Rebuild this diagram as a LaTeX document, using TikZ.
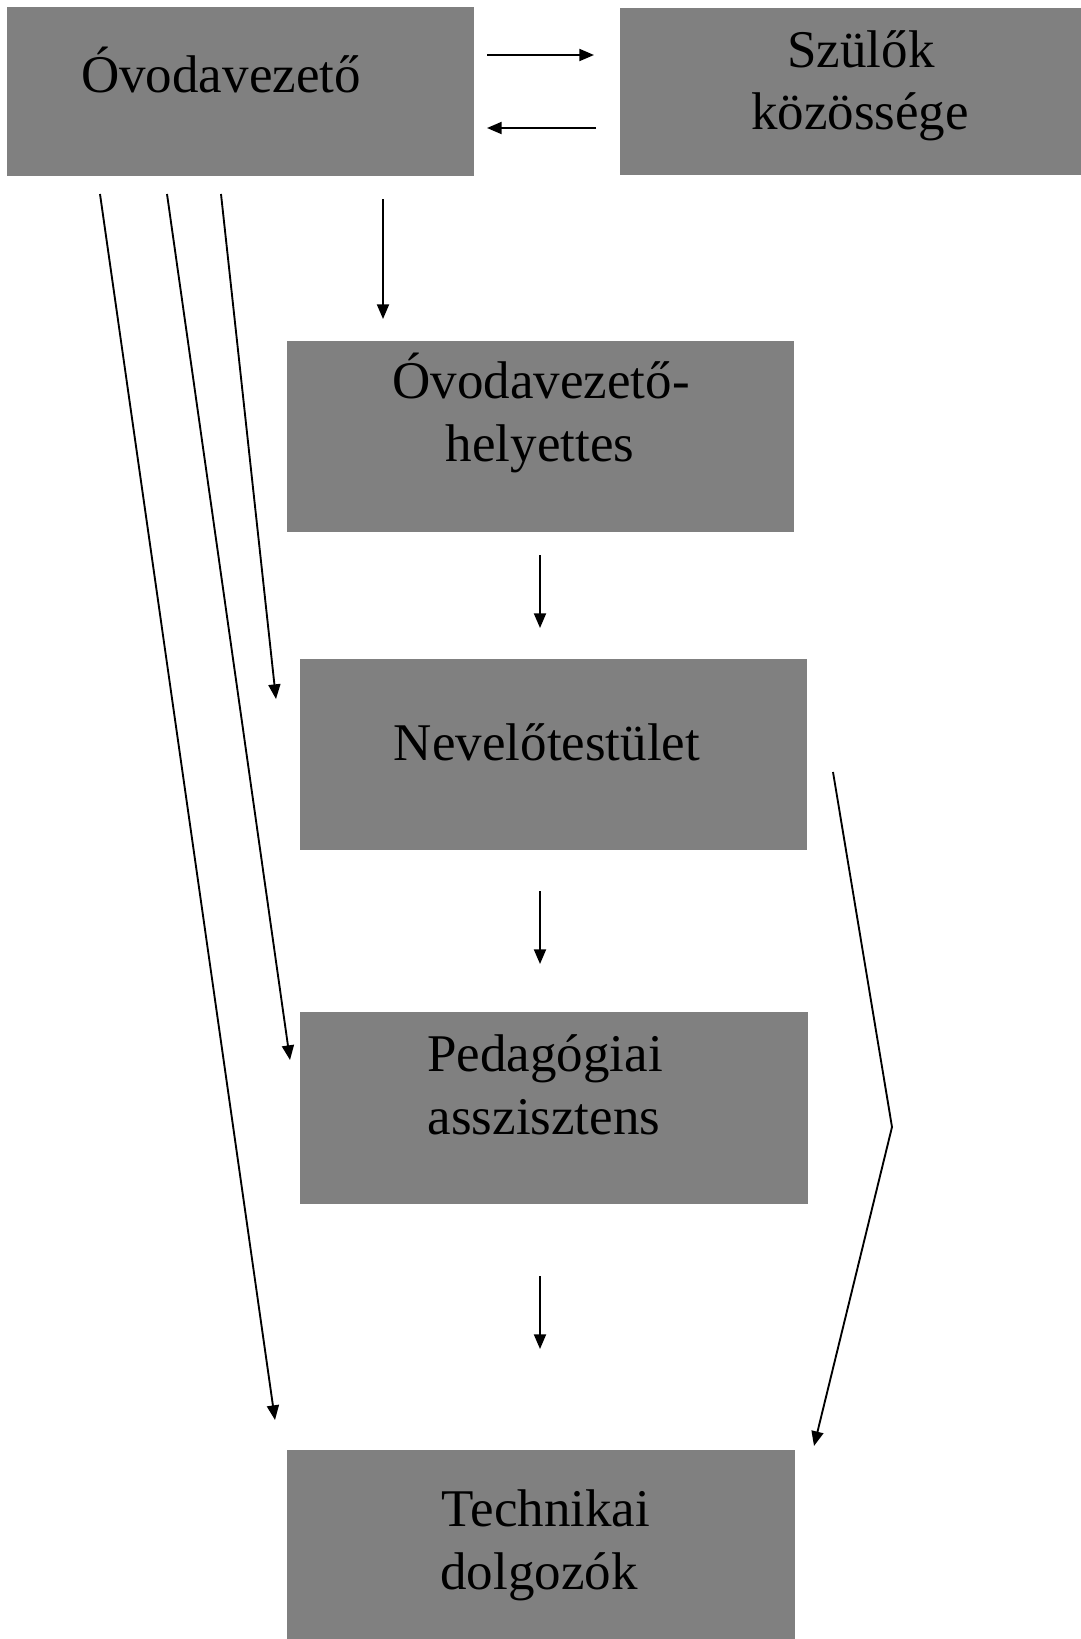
\documentclass[tikz,border=0pt]{standalone}
\usepackage{fontspec}
\setmainfont{Liberation Serif}
\usetikzlibrary{arrows.meta,fit}
\definecolor{boxgray}{RGB}{128,128,128}
\tikzset{
  box/.style={fill=boxgray, draw=none, inner sep=0pt},
  lbl/.style={anchor=base, inner sep=0pt, font=\fontsize{39.75pt}{47pt}\selectfont, text=black},
  conn/.style={line width=1.4pt, -{Triangle[length=11pt,width=9pt]}},
  plain/.style={line width=1.4pt}
}
\begin{document}
\begin{tikzpicture}[x=0.75pt,y=-0.75pt]
\useasboundingbox (0,0) rectangle (1081,1639);
% boxes
\node[box, fit={(7,7) (474,176)}] (vez) {};
\node[box, fit={(620,8) (1081,175)}] (szul) {};
\node[box, fit={(287,341) (794,532)}] (hely) {};
\node[box, fit={(300,659) (807,850)}] (nev) {};
\node[box, fit={(300,1012) (808,1204)}] (ped) {};
\node[box, fit={(287,1450) (795,1639)}] (tech) {};
% texts
\node[lbl] (t1) at (221,92) {Óvodavezető};
\node[lbl] (t2a) at (861,67) {Szülők};
\node[lbl] (t2b) at (860,129) {közössége};
\node[lbl] (t3a) at (541,398) {Óvodavezető-};
\node[lbl] (t3b) at (540,461) {helyettes};
\node[lbl] (t4) at (547,760) {Nevelőtestület};
\node[lbl] (t5a) at (545,1071) {Pedagógiai};
\node[lbl] (t5b) at (544,1134) {asszisztens};
\node[lbl] (t6a) at (546,1526) {Technikai};
\node[lbl] (t6b) at (539,1589) {dolgozók};
% connector end points
\coordinate (r1s) at (487,55);  \coordinate (r1e) at (594,55);
\coordinate (l1s) at (596,128); \coordinate (l1e) at (487,128);
\coordinate (d1s) at (383,199); \coordinate (d1e) at (383,319);
\coordinate (d2s) at (540,555); \coordinate (d2e) at (540,628);
\coordinate (d3s) at (540,891); \coordinate (d3e) at (540,964);
\coordinate (d4s) at (540,1276); \coordinate (d4e) at (540,1349);
\coordinate (g1s) at (221,194); \coordinate (g1e) at (276,699);
\coordinate (g2s) at (167,194); \coordinate (g2e) at (290,1060);
\coordinate (g3s) at (100,194); \coordinate (g3e) at (275,1420);
\coordinate (bs) at (833,772); \coordinate (bp) at (892,1127); \coordinate (be) at (814,1446);
% connectors
\draw[conn] (r1s) -- (r1e);
\draw[conn] (l1s) -- (l1e);
\draw[conn] (d1s) -- (d1e);
\draw[conn] (d2s) -- (d2e);
\draw[conn] (d3s) -- (d3e);
\draw[conn] (d4s) -- (d4e);
\draw[conn] (g1s) -- (g1e);
\draw[conn] (g2s) -- (g2e);
\draw[conn] (g3s) -- (g3e);
\draw[conn] (bs) -- (bp) -- (be);
\end{tikzpicture}
\end{document}
